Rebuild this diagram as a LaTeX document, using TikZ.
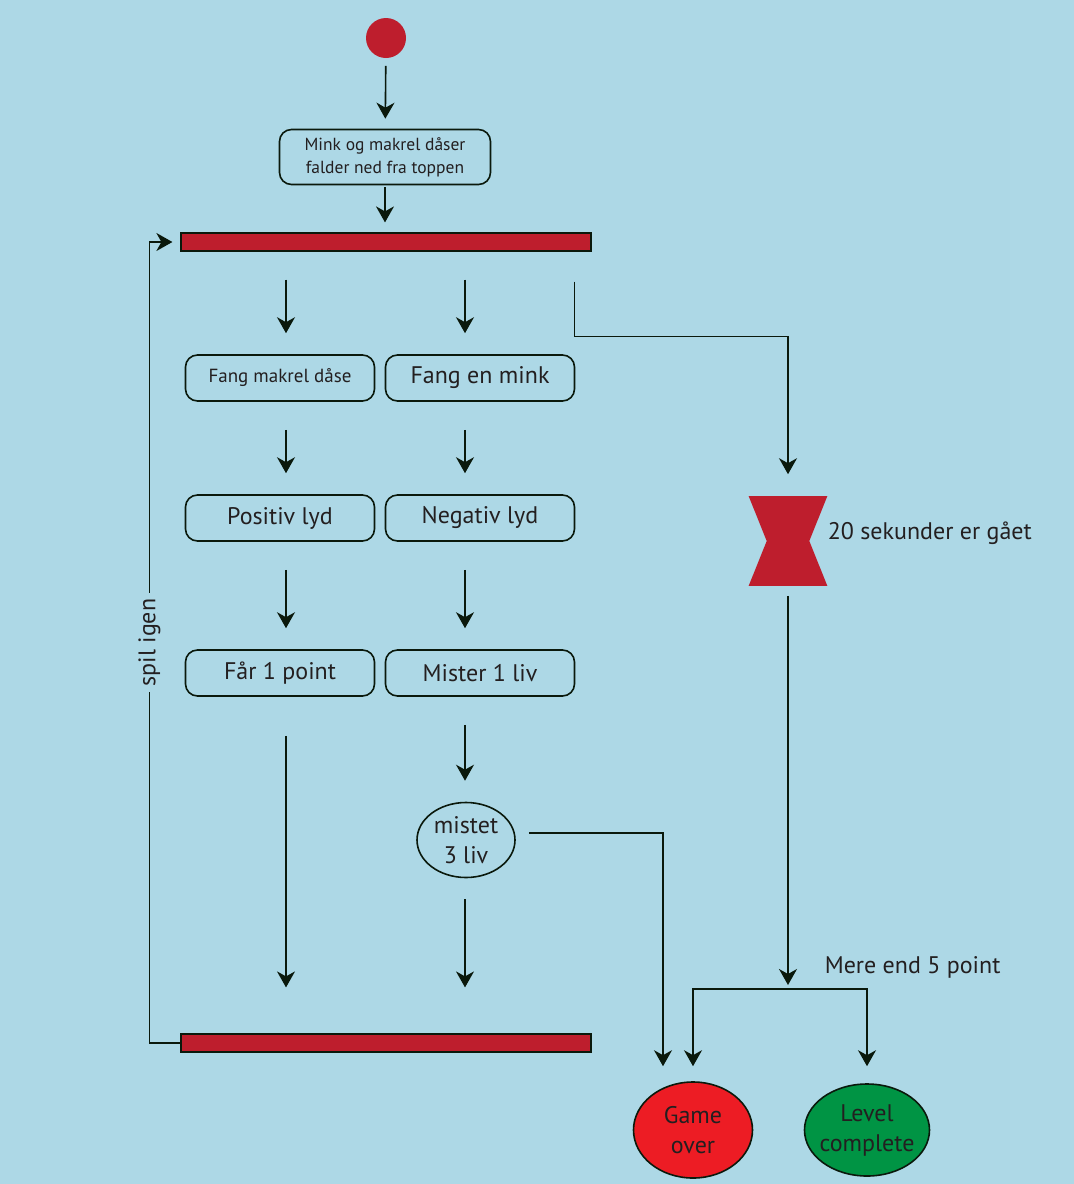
\documentclass[tikz,border=0pt]{standalone}
\usepackage{fontspec}
\setmainfont{PT Sans}
\usepackage{tikz}
\usetikzlibrary{arrows.meta}
\usetikzlibrary{positioning,shapes.geometric}
\definecolor{bgblue}{RGB}{173,216,230}
\definecolor{barred}{RGB}{190,30,45}
\definecolor{overred}{RGB}{237,28,36}
\definecolor{levelgreen}{RGB}{0,148,68}
\definecolor{linecol}{RGB}{10,25,12}
\definecolor{textcol}{RGB}{35,31,32}
\tikzset{
    activity/.style={
           rectangle,
           rounded corners=12pt,
           draw=linecol, line width=1.6pt,
           minimum width=189pt,
           minimum height=46pt,
           inner sep=2pt,
           text centered,
           text=textcol,
           font=\fontsize{24}{28}\selectfont,
           },
    smalltext/.style={font=\fontsize{17.5}{23}\selectfont},
    bar/.style={
           rectangle,
           draw=linecol, line width=1.2pt,
           fill=barred,
           minimum width=410pt,
           minimum height=18pt,
           inner sep=0pt,
           },
    final/.style={
           ellipse,
           draw=linecol, line width=1.6pt,
           inner xsep=-12pt, inner ysep=0pt,
           align=center,
           text=textcol,
           font=\fontsize{24}{30}\selectfont,
           },
    caption/.style={text=textcol, font=\fontsize{24}{28}\selectfont, inner sep=0pt},
}

\begin{document}
\begin{tikzpicture}[->,>={Stealth[length=16pt,width=18pt,inset=5pt]},x=1pt,y=-1pt,
                    line width=1.6pt,draw=linecol]
  \fill[bgblue,-] (0,0) rectangle (1074,1184);

  \node[circle,fill=barred,minimum size=40pt,inner sep=0pt] (S) at (386,38) {};
  \node[activity,smalltext,align=center,minimum width=211pt,minimum height=55pt] (M) at (385,157)
        {Mink og makrel dåser\\falder ned fra toppen};
  \node[bar] (B1) at (386,242) {};
  \node[activity,font=\fontsize{19}{23}\selectfont] (F1) at (280,378) {Fang makrel dåse};
  \node[activity]           (F2) at (480,378) {Fang en mink};
  \node[activity]           (P1) at (280,518) {Positiv lyd};
  \node[activity]           (P2) at (480,518) {Negativ lyd};
  \node[activity]           (R1) at (280,673) {Får 1 point};
  \node[activity]           (R2) at (480,673) {Mister 1 liv};
  \node[final,minimum width=98pt,minimum height=75pt] (E) at (466,840) {mistet\\3 liv};
  \node[bar] (B2) at (386,1043) {};
  \node[rectangle,minimum width=77pt,minimum height=88pt,inner sep=0pt] (H) at (788,541) {};
  \node[final,fill=overred,minimum width=119pt,minimum height=96pt] (GO) at (693,1130) {Game\\over};
  \node[final,fill=levelgreen,minimum width=125pt,minimum height=92pt] (LC) at (867,1130) {Level\\complete};
  \node[caption,anchor=west] (T) at (827,533) {20 sekunder er gået};
  \node[caption,anchor=west] (P) at (824,967) {Mere end 5 point};
  \coordinate (J) at (788,989);
  \coordinate (c1) at (286,0);
  \coordinate (c2) at (465,0);
  \coordinate (g) at ([xshift=-30pt]GO.north);

  % hourglass
  \fill[barred,-] (H.north west) -- (H.north east) -- ([xshift=-18pt]H.east)
        -- (H.south east) -- (H.south west) -- ([xshift=18pt]H.west) -- cycle;

  \draw[shorten <=7pt,shorten >=10pt] (S) -- (M);
  \draw[shorten <=2pt,shorten >=10pt] (M.south) -- (M.south |- B1.north);
  \foreach \c/\a/\b in {c1/B1/F1, c2/B1/F2, c1/F1/P1, c2/F2/P2, c1/P1/R1, c2/P2/R2, c2/R2/E}
    \draw[shorten <=28pt,shorten >=21pt] (\a.south -| \c) -- (\b.north -| \c);
  \draw[shorten <=39pt,shorten >=46pt] (R1.south -| c1) -- (B2.north -| c1);
  \draw[shorten <=21pt,shorten >=46pt] (E.south -| c2) -- (B2.north -| c2);

  % spil igen
  \draw[shorten >=8pt] (B2.west) -- ++(-31,0) |- node[pos=0.25,rotate=90,fill=bgblue,caption,inner sep=6pt] {spil igen} (B1.west);

  % timer
  \draw[shorten <=30pt,shorten >=22pt] ([xshift=-17pt]B1.south east) -- ++(0,85) -| (H.north);
  \draw[shorten <=10pt,shorten >=4pt] (H.south) -- (J);
  \draw[shorten >=15pt] (J) -| (GO);
  \draw[shorten >=17pt] (J) -| (LC);
  \draw[line width=1.3pt,shorten <=13pt,shorten >=15pt] ([yshift=7pt]E.east) -| (g);
\end{tikzpicture}
\end{document}
